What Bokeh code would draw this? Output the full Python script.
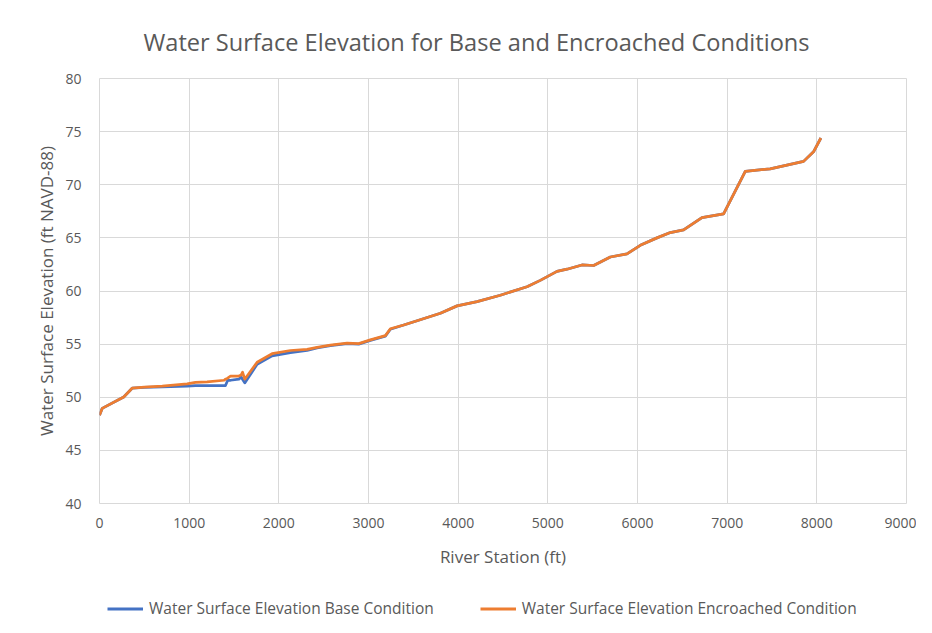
from bokeh.plotting import figure
from bokeh.layouts import column
from bokeh.models import Range1d, SingleIntervalTicker, Legend, LegendItem
from bokeh.embed import file_html
from bokeh.resources import INLINE

# ---- data ----
station = [0, 30, 270, 364, 500, 700, 977, 1070, 1200, 1390, 1405, 1430, 1462, 1554, 1580,
           1595, 1620, 1758, 1925, 2129, 2315, 2427, 2575, 2761, 2891, 3021, 3188, 3244,
           3393, 3542, 3802, 3988, 4211, 4470, 4768, 4916, 5102, 5214, 5381, 5511, 5697,
           5883, 6031, 6217, 6366, 6514, 6719, 6960, 7202, 7480, 7852, 7963, 8045]
wse_encroached = [48.3, 48.95, 50.03, 50.85, 50.95, 51.05, 51.25, 51.4, 51.45, 51.6, 51.7, 51.8,
                  52.0, 52.0, 52.1, 52.35, 51.7, 53.3, 54.1, 54.4, 54.5, 54.7, 54.9, 55.1,
                  55.05, 55.4, 55.8, 56.45, 56.8, 57.2, 57.9, 58.6, 59.0, 59.6, 60.4, 61.0,
                  61.85, 62.05, 62.45, 62.4, 63.2, 63.5, 64.3, 65.0, 65.5, 65.75, 66.9, 67.25,
                  71.25, 71.5, 72.2, 73.1, 74.4]
wse_base = [48.3, 48.95, 50.03, 50.85, 50.92, 50.98, 51.05, 51.1, 51.1, 51.1, 51.1, 51.6,
            51.6, 51.7, 51.9, 51.7, 51.35, 53.1, 53.9, 54.2, 54.4, 54.65, 54.85, 55.05,
            55.0, 55.35, 55.75, 56.4, 56.8, 57.2, 57.9, 58.6, 59.0, 59.6, 60.4, 61.0,
            61.85, 62.05, 62.45, 62.4, 63.2, 63.5, 64.3, 65.0, 65.5, 65.75, 66.9, 67.25,
            71.25, 71.5, 72.2, 73.1, 74.4]

title_text = "Water Surface Elevation for Base and Encroached Conditions"
x_label = "River Station (ft)"
y_label = "Water Surface Elevation (ft NAVD-88)"
series_names = ["Water Surface Elevation Base Condition",
                "Water Surface Elevation Encroached Condition"]

FONT = "Open Sans"
TXT = "#595959"
GRID = "#d9d9d9"
BLUE = "#4472C4"
ORANGE = "#ED7D31"

p = figure(width=916, height=575, output_backend="svg", toolbar_location=None,
           x_range=Range1d(0, 9000), y_range=Range1d(40, 80),
           min_border_left=99, min_border_right=10, min_border_top=78, min_border_bottom=72)
p.outline_line_color = GRID
p.background_fill_color = "white"
p.border_fill_color = "white"

p.title.text = title_text
p.title.align = "left"
p.title.offset = 44
p.title.standoff = 41
p.title.text_font = FONT
p.title.text_font_size = "23.6px"
p.title.text_font_style = "normal"
p.title.text_color = TXT

for ax, interval in ((p.xaxis[0], 1000), (p.yaxis[0], 5)):
    ax.ticker = SingleIntervalTicker(interval=interval)
    ax.axis_line_color = None
    ax.major_tick_line_color = None
    ax.minor_tick_line_color = None
    ax.major_label_text_color = TXT
    ax.major_label_text_font = FONT
    ax.major_label_text_font_size = "14px"
    ax.axis_label_text_color = TXT
    ax.axis_label_text_font = FONT
    ax.axis_label_text_font_size = "17px"
    ax.axis_label_text_font_style = "normal"

p.xaxis.axis_label = x_label
p.yaxis.axis_label = y_label
p.xaxis.major_label_standoff = 8
p.xaxis.axis_label_standoff = 14
p.yaxis.major_label_standoff = 12
p.yaxis.axis_label_standoff = 4

p.xgrid.grid_line_color = GRID
p.ygrid.grid_line_color = GRID
p.xgrid.ticker = SingleIntervalTicker(interval=1000)
p.ygrid.ticker = SingleIntervalTicker(interval=5)

p.line(station, wse_base, line_color=BLUE, line_width=2.75, line_join="round")
p.line(station, wse_encroached, line_color=ORANGE, line_width=2.75, line_join="round")

# legend strip below the chart (its ranges keep the proxy lines out of view)
pl = figure(width=916, height=48, output_backend="svg", toolbar_location=None,
            x_range=Range1d(-20000, -19000), y_range=Range1d(0, 1),
            x_axis_type=None, y_axis_type=None,
            min_border_left=99, min_border_right=10, min_border_top=14, min_border_bottom=0)
pl.outline_line_color = None
pl.grid.visible = False
pl.border_fill_color = "white"
lb = pl.line(station, wse_base, line_color=BLUE, line_width=3)
lo = pl.line(station, wse_encroached, line_color=ORANGE, line_width=3)
legend = Legend(items=[LegendItem(label=series_names[0], renderers=[lb]),
                       LegendItem(label=series_names[1], renderers=[lo])],
                orientation="horizontal", location="top_left",
                label_text_font=FONT, label_text_font_size="15.5px", label_text_color=TXT,
                glyph_width=36, glyph_height=17, label_height=17, label_standoff=6,
                spacing=46, padding=0, margin=8,
                border_line_color=None, background_fill_alpha=0)
pl.add_layout(legend)

open("out.html", "w").write(file_html(column(p, pl, spacing=0), INLINE))
